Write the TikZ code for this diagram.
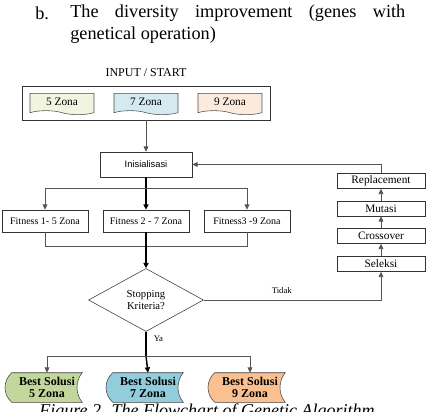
\documentclass[tikz,border=0pt]{standalone}
\usepackage{fontspec}
\setmainfont{Liberation Serif}
\setsansfont{Liberation Sans}
\usepackage{tikz}
\usetikzlibrary{shapes.geometric, shapes.symbols, arrows.meta, positioning, backgrounds}
\definecolor{zonegreen}{HTML}{F1F4DF}
\definecolor{zoneblue}{HTML}{D5EAF0}
\definecolor{zonepeach}{HTML}{FCEADC}
\definecolor{solgreen}{HTML}{C3D69B}
\definecolor{solblue}{HTML}{92CDDC}
\definecolor{solorange}{HTML}{FAC08F}
\definecolor{linegray}{HTML}{555555}

\begin{document}
\begin{tikzpicture}[x=0.75pt, y=-0.75pt,
	zonebox/.style={tape, tape bend top=none, tape bend bottom=out and in, tape bend height=3pt,
		draw=black!70, minimum width=48pt, minimum height=16pt, inner sep=0pt,
		font=\fontsize{8.5}{9}\selectfont},
	fitbox/.style={draw=black!80, minimum width=64.5pt, minimum height=16.5pt, inner sep=0pt,
		font=\fontsize{7.5}{8}\selectfont},
	gabox/.style={draw=black!80, minimum width=66pt, minimum height=11.25pt, inner sep=0pt,
		font=\fontsize{8.5}{9}\selectfont},
	solbox/.style={minimum width=52.5pt, minimum height=21.75pt, inner sep=0pt, align=center,
		font=\bfseries\fontsize{9}{9.5}\selectfont},
	arr/.style={draw=linegray, line width=0.6pt, -{Triangle[length=4pt, width=3.6pt]}},
	link/.style={draw=linegray, line width=0.6pt},
	trunk/.style={draw=black, line width=1.1pt},
	trunkarr/.style={trunk, -{Triangle[length=4pt, width=3.8pt]}}
	]
	\useasboundingbox (0,0) rectangle (430,412);

	\node[anchor=base west, inner sep=0pt, font=\fontsize{13.7}{16.5}\selectfont] (item) at (35,19) {b.};
	\node[anchor=north west, inner sep=0pt, text width=251.25pt, align=justify,
		font=\fontsize{13.7}{16.5}\selectfont] (itemtext) at (70,5)
		{The diversity improvement (genes with\linebreak genetical operation)};

	\node[draw=black!80, minimum width=186pt, minimum height=25.5pt] (input) at (146,103) {};
	\node[font=\fontsize{9}{10}\selectfont, inner sep=0pt] (start) at (146,73) {INPUT / START};
	\node[zonebox, fill=zonegreen] (zona5) at (62,102) {5 Zona};
	\node[zonebox, fill=zoneblue] (zona7) at (146,102) {7 Zona};
	\node[zonebox, fill=zonepeach] (zona9) at (230,102) {9 Zona};

	\node[draw=black!80, minimum width=69pt, minimum height=18.75pt, inner sep=0pt,
		font=\sffamily\fontsize{7}{8}\selectfont] (init) at (146,164.5) {Inisialisasi};

	\node[fitbox] (fit1) at (45,221) {Fitness 1- 5 Zona};
	\node[fitbox] (fit2) at (146,221) {Fitness 2 - 7 Zona};
	\node[fitbox] (fit3) at (247,221) {Fitness3 -9 Zona};

	\node[diamond, draw=black!80, minimum width=86.25pt, minimum height=47.25pt, inner sep=0pt,
		align=center, font=\fontsize{8}{8.5}\selectfont] (stop) at (146,300) {Stopping\\Kriteria?};

	\node[gabox] (repl) at (381,181) {Replacement};
	\node[gabox] (mut) at (381,208.5) {Mutasi};
	\node[gabox] (cross) at (381,236) {Crossover};
	\node[gabox] (sel) at (381,264) {Seleksi};

	\node[solbox] (best5) at (47,387.5) {Best Solusi\\5 Zona};
	\node[solbox] (best7) at (148,387.5) {Best Solusi\\7 Zona};
	\node[solbox] (best9) at (250,387.5) {Best Solusi\\9 Zona};
	\begin{scope}[on background layer]
		\foreach \sol/\col in {best5/solgreen, best7/solblue, best9/solorange}
			\draw[draw=black!75, fill=\col] (\sol.north west) -- (\sol.north east)
				.. controls +(-7,8) and +(-7,-8) .. (\sol.south east) -- (\sol.south west)
				.. controls +(-9,-8) and +(-9,8) .. (\sol.north west) -- cycle;
	\end{scope}

	\node[anchor=north, inner sep=0pt, font=\itshape\fontsize{13.5}{15}\selectfont] (caption)
		at (207,404) {Figure 2. The Flowchart of Genetic Algorithm};

	\coordinate (initfork) at (146,188);
	\coordinate (fitjoin) at (146,246);
	\coordinate (yafork) at (146,356);

	\draw[arr] (input.south) -- (init.north);
	\draw[arr] (repl.north) |- (init.east);
	\draw[trunkarr] (init.south) -- (fit2.north);
	\draw[arr] (initfork) -| (fit1.north);
	\draw[arr] (initfork) -| (fit3.north);
	\draw[link] (fit1.south) |- (fitjoin);
	\draw[link] (fit3.south) |- (fitjoin);
	\draw[trunkarr] (fit2.south) -- (stop.north);
	\draw[arr] (stop.east) -| node[pos=0.22, above=1pt, font=\fontsize{6.5}{7}\selectfont] {Tidak} (sel.south);
	\draw[arr] (sel.north) -- (cross.south);
	\draw[arr] (cross.north) -- (mut.south);
	\draw[arr] (mut.north) -- (repl.south);
	\draw[trunk] (stop.south) -- node[pos=0.3, right=2pt, font=\fontsize{6.5}{7}\selectfont] {Ya} (yafork);
	\draw[trunkarr] (yafork) -- (best7.north);
	\draw[arr] (yafork) -| (best5.north);
	\draw[arr] (yafork) -| (best9.north);
\end{tikzpicture}
\end{document}
